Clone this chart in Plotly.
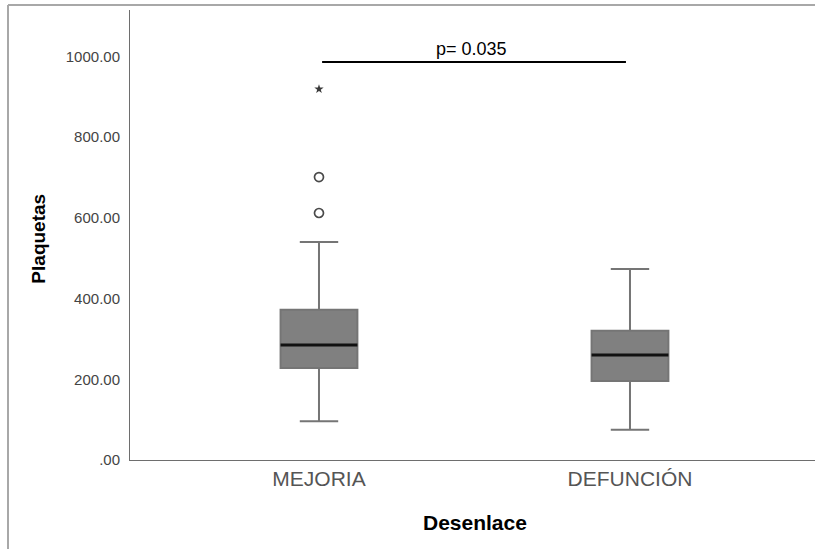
import plotly.graph_objects as go

# Platelet count summaries by outcome group
categories = ["MEJORIA", "DEFUNCIÓN"]
lower_whisker = [96, 75]
q1 = [228, 196]
median = [285, 260]
q3 = [372, 320]
upper_whisker = [540, 473]

# Points beyond the whiskers (MEJORIA group only)
outlier_values = [612, 701]
extreme_values = [919]

# Significance bracket between the two groups
p_label = "p= 0.035"
bracket_level = 986

y_ticks = [0, 200, 400, 600, 800, 1000]
y_ticktext = [".00" if v == 0 else f"{v:.2f}" for v in y_ticks]

FONT = "Liberation Sans, Arial, sans-serif"
BOX_W = 0.247
xs = list(range(len(categories)))

fig = go.Figure()

for i in xs:
    fig.add_trace(go.Box(
        x=[i],
        q1=[q1[i]], median=[median[i]], q3=[q3[i]],
        lowerfence=[lower_whisker[i]], upperfence=[upper_whisker[i]],
        width=BOX_W,
        whiskerwidth=0.5,
        fillcolor="#808080",
        line=dict(color="#757575", width=2),
        boxpoints=False,
        hoverinfo="skip",
        showlegend=False,
    ))

# Black median bars drawn on top of the boxes
mx, my = [], []
for i in xs:
    mx += [i - BOX_W / 2, i + BOX_W / 2, None]
    my += [median[i], median[i], None]
fig.add_trace(go.Scatter(x=mx, y=my, mode="lines",
                         line=dict(color="#111111", width=3),
                         hoverinfo="skip", showlegend=False))

fig.add_trace(go.Scatter(
    x=[0] * len(outlier_values), y=outlier_values, mode="markers",
    marker=dict(symbol="circle-open", size=9, color="#4a4a4a",
                line=dict(width=1.7, color="#4a4a4a")),
    hoverinfo="skip", showlegend=False))

fig.add_trace(go.Scatter(
    x=[0] * len(extreme_values), y=extreme_values, mode="markers",
    marker=dict(symbol="star", size=7, color="#3a3a3a"),
    hoverinfo="skip", showlegend=False))

# Bracket line and p-value label
fig.add_shape(type="line", xref="x", yref="y",
              x0=0.01, x1=0.987, y0=bracket_level, y1=bracket_level,
              line=dict(color="black", width=2))
fig.add_annotation(x=0.49, y=bracket_level, xref="x", yref="y",
                   text=p_label, showarrow=False, yanchor="bottom",
                   yshift=1, font=dict(family=FONT, size=18, color="black"))

# Axis titles
fig.add_annotation(x=-0.1336, y=0.493, xref="paper", yref="paper",
                   text="<b>Plaquetas</b>", textangle=-90, showarrow=False,
                   xanchor="center", yanchor="middle",
                   font=dict(family=FONT, size=19, color="black"))
fig.add_annotation(x=0.5036, y=-0.138, xref="paper", yref="paper",
                   text="<b>Desenlace</b>", showarrow=False,
                   xanchor="center", yanchor="middle",
                   font=dict(family=FONT, size=21, color="black"))

# Outer frame
frame = dict(color="#a8a8a8", width=2)
fig.add_shape(type="line", xref="paper", yref="paper",
              x0=-0.1781, x1=1.05, y0=1.0111, y1=1.0111, line=frame)
fig.add_shape(type="line", xref="paper", yref="paper",
              x0=-0.1781, x1=-0.1781, y0=1.0111, y1=-0.25, line=frame)

fig.update_layout(
    width=815, height=549,
    margin=dict(l=130, r=0, t=10, b=89),
    plot_bgcolor="white", paper_bgcolor="white",
    font=dict(family=FONT),
    xaxis=dict(
        range=[-0.6077, 1.5949],
        tickvals=xs, ticktext=categories,
        tickfont=dict(family=FONT, size=21, color="#555555"),
        showgrid=False, zeroline=False,
        showline=True, linecolor="#6e6e6e", linewidth=1,
        ticks="", fixedrange=True,
    ),
    yaxis=dict(
        range=[0, 1115],
        tickvals=y_ticks, ticktext=y_ticktext,
        tickfont=dict(family=FONT, size=15, color="#444444"),
        showgrid=False, zeroline=False,
        showline=True, linecolor="#6e6e6e", linewidth=1,
        ticks="", ticklabelstandoff=6, fixedrange=True,
    ),
)

fig.write_html("out.html")
